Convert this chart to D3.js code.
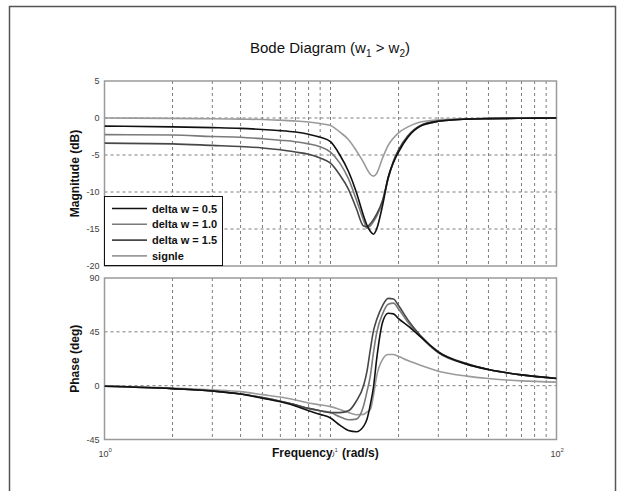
<!DOCTYPE html>
<html>
<head>
<meta charset="utf-8">
<script src="https://cdn.jsdelivr.net/npm/d3@7"></script>
<style>
	body { margin: 0; background: #fff; }
	text { font-family: Arial, "Liberation Sans", sans-serif; }
</style>
</head>
<body>
<div id="canvas"></div>
<script>
// Data
const freqs = [1, 2, 3, 4, 5, 6, 7, 8, 9, 10, 11, 12, 13, 14, 14.5, 15, 15.5, 16, 17, 18, 19, 20, 22, 25, 30, 40, 50, 70, 100]

const magDw05 = [-1.1, -1.2, -1.3, -1.4, -1.55, -1.7, -1.9, -2.2, -2.6, -3.2, -5.0, -7.2, -10.0, -13.2, -14.5, -15.3, -15.7, -15.0, -11.8, -8.0, -6.0, -4.6, -2.6, -1.1, -0.45, -0.15, -0.08, -0.03, 0]
const magDw10 = [-2.25, -2.3, -2.5, -2.6, -2.8, -3.0, -3.2, -3.5, -3.9, -4.6, -6.1, -8.2, -11.0, -13.8, -14.9, -14.6, -14.0, -13.3, -11.3, -8.2, -5.9, -4.4, -2.5, -1.1, -0.45, -0.15, -0.08, -0.03, 0]
const magDw15 = [-3.4, -3.5, -3.7, -3.85, -4.05, -4.3, -4.6, -4.9, -5.4, -6.1, -7.7, -9.6, -12.2, -14.6, -14.7, -14.3, -13.7, -13.0, -11.1, -8.1, -5.8, -4.3, -2.4, -1.0, -0.4, -0.15, -0.08, -0.03, 0]
const magSingle = [0, -0.05, -0.1, -0.15, -0.2, -0.3, -0.4, -0.55, -0.75, -1.0, -1.9, -2.9, -4.4, -6.0, -6.9, -7.6, -7.85, -7.5, -5.4, -3.7, -2.7, -2.0, -1.2, -0.55, -0.25, -0.1, -0.05, 0, 0]

const phDw05 = [-0.5, -2.5, -4.5, -7, -10.5, -13.5, -17, -21, -24, -27, -33, -37.5, -38.5, -34, -28, -16, -1, 22, 53, 60.5, 60, 56, 50, 41, 28, 18, 13.5, 9, 6]
const phDw10 = [-0.5, -2.5, -4.5, -7, -10, -13, -16, -19, -21, -22.5, -26, -28.5, -28, -17, -5, 8, 28, 44, 60, 68, 69, 64, 53, 41, 27.5, 18, 13.5, 9, 6]
const phDw15 = [-0.5, -2.5, -4.5, -7, -10, -13, -16, -19, -21, -22.5, -22.5, -21, -13, 0, 12, 30, 46, 55, 67, 73, 72.5, 67, 55, 42, 28.5, 18.5, 13.5, 9, 6.2]
const phSingle = [-0.3, -2, -3.5, -5, -7.5, -9.5, -12, -14.5, -16, -17.5, -20, -22.5, -24.3, -24, -22, -20, -8, 8, 22, 26, 26, 24.5, 21, 17, 12, 8, 6, 4, 3]

const seriesNames = ['delta w = 0.5', 'delta w = 1.0', 'delta w = 1.5', 'signle']
const magTicks = [5, 0, -5, -10, -15, -20]
const phaseTicks = [90, 45, 0, -45]
const decades = [0, 1, 2]

// Styles
const colors = {
	dw05: '#111111',
	dw10: '#7a7a7a',
	dw15: '#474747',
	single: '#9a9a9a',
	grid: '#7c7c7c',
	box: '#9a9a9a',
	tick: '#404040',
	frame: '#555555',
}
const seriesColors = [colors.dw05, colors.dw10, colors.dw15, colors.single]
const magSeries = [magDw05, magDw10, magDw15, magSingle]
const phaseSeries = [phDw05, phDw10, phDw15, phSingle]

const width = 618, height = 491
const plotLeft = 104.5, plotRight = 556.5
const magTop = 81, magBottom = 266
const phTop = 278, phBottom = 439.5

const svg = d3.select('#canvas').append('svg').attr('width', width).attr('height', height)

// outer figure frame
svg.append('rect')
	.attr('x', 9.5).attr('y', 6.5).attr('width', 606).attr('height', 520)
	.attr('fill', 'none').attr('stroke', colors.frame).attr('stroke-width', 1.5)

const x = d3.scaleLog().domain([1, 100]).range([plotLeft, plotRight])
const yMag = d3.scaleLinear().domain([-20, 5]).range([magBottom, magTop])
const yPh = d3.scaleLinear().domain([-45, 90]).range([phBottom, phTop])

// minor log grid positions 2..9 for each decade, plus 10
const gridFreqs = x.ticks().filter(f => f > 1 && f < 100)

function drawAxes(y, top, bottom, ticks) {
	const g = svg.append('g')
	g.selectAll('.vgrid').data(gridFreqs).enter()
		.append('line')
		.attr('x1', d => x(d)).attr('x2', d => x(d))
		.attr('y1', top).attr('y2', bottom)
		.attr('stroke', colors.grid).attr('stroke-width', 1)
		.attr('stroke-dasharray', '3,3')
	g.selectAll('.hgrid').data(ticks.filter(t => y(t) > top + 1 && y(t) < bottom - 1)).enter()
		.append('line')
		.attr('x1', plotLeft).attr('x2', plotRight)
		.attr('y1', d => y(d)).attr('y2', d => y(d))
		.attr('stroke', colors.grid).attr('stroke-width', 1)
		.attr('stroke-dasharray', '3,3')
	g.append('rect')
		.attr('x', plotLeft).attr('y', top)
		.attr('width', plotRight - plotLeft).attr('height', bottom - top)
		.attr('fill', 'none').attr('stroke', colors.box).attr('stroke-width', 1.5)
	g.selectAll('.ylab').data(ticks).enter()
		.append('text')
		.attr('x', plotLeft - 5).attr('y', d => y(d) + 3)
		.attr('text-anchor', 'end')
		.attr('font-size', 9)
		.attr('fill', colors.tick)
		.text(d => d)
	return g
}

function drawCurves(y, series, clipId, top, bottom) {
	svg.append('clipPath').attr('id', clipId)
		.append('rect').attr('x', plotLeft).attr('y', top)
		.attr('width', plotRight - plotLeft).attr('height', bottom - top)
	const line = d3.line()
		.curve(d3.curveMonotoneX)
		.x((d, i) => x(freqs[i]))
		.y(d => y(d))
	// draw lighter curves first, black last
	const order = [3, 1, 2, 0]
	order.forEach(k => {
		svg.append('path')
			.attr('clip-path', `url(#${clipId})`)
			.attr('d', line(series[k]))
			.attr('fill', 'none')
			.attr('stroke', seriesColors[k])
			.attr('stroke-width', 1.6)
	})
}

drawAxes(yMag, magTop, magBottom, magTicks)
drawCurves(yMag, magSeries, 'clipMag', magTop, magBottom)
drawAxes(yPh, phTop, phBottom, phaseTicks)
drawCurves(yPh, phaseSeries, 'clipPh', phTop, phBottom)

// legend
const legend = svg.append('g')
legend.append('rect')
	.attr('x', 104.5).attr('y', 196.5).attr('width', 118).attr('height', 69)
	.attr('fill', '#fff').attr('stroke', '#111').attr('stroke-width', 1)
seriesNames.forEach((name, i) => {
	const ly = 208.5 + i * 15.8
	legend.append('line')
		.attr('x1', 112).attr('x2', 147).attr('y1', ly).attr('y2', ly)
		.attr('stroke', seriesColors[i]).attr('stroke-width', 1.6)
	legend.append('text')
		.attr('x', 152).attr('y', ly + 4)
		.attr('font-size', 11).attr('font-weight', 'bold').attr('fill', '#111')
		.text(name)
})

// x tick labels (10^n) under the phase plot
decades.forEach(p => {
	const t = svg.append('text')
		.attr('x', x(Math.pow(10, p)) - 6).attr('y', 457)
		.attr('font-size', 9).attr('fill', colors.tick)
	t.append('tspan').text('10')
	t.append('tspan').attr('dy', -5).attr('font-size', 6).text(p)
})

// x label sits on top of the 10^1 tick label, as in the original figure
svg.append('text')
	.attr('x', 272).attr('y', 457)
	.attr('font-size', 12).attr('font-weight', 'bold').attr('fill', '#111')
	.attr('stroke', '#fff').attr('stroke-width', 2.5).attr('paint-order', 'stroke')
	.text('Frequency')
svg.append('text')
	.attr('x', 342).attr('y', 457)
	.attr('font-size', 12).attr('font-weight', 'bold').attr('fill', '#111')
	.text('(rad/s)')

svg.append('text')
	.attr('transform', `translate(79,${(magTop + magBottom) / 2}) rotate(-90)`)
	.attr('text-anchor', 'middle')
	.attr('font-size', 12).attr('font-weight', 'bold').attr('fill', '#111')
	.text('Magnitude (dB)')

svg.append('text')
	.attr('transform', `translate(79,${(phTop + phBottom) / 2}) rotate(-90)`)
	.attr('text-anchor', 'middle')
	.attr('font-size', 12).attr('font-weight', 'bold').attr('fill', '#111')
	.text('Phase (deg)')

// title with subscripts
const title = svg.append('text')
	.attr('x', 330).attr('y', 53)
	.attr('text-anchor', 'middle')
	.attr('font-size', 15).attr('fill', '#111')
title.append('tspan').text('Bode Diagram (w')
title.append('tspan').attr('dy', 4).attr('font-size', 10).text('1')
title.append('tspan').attr('dy', -4).text(' > w')
title.append('tspan').attr('dy', 4).attr('font-size', 10).text('2')
title.append('tspan').attr('dy', -4).text(')')
</script>
</body>
</html>
